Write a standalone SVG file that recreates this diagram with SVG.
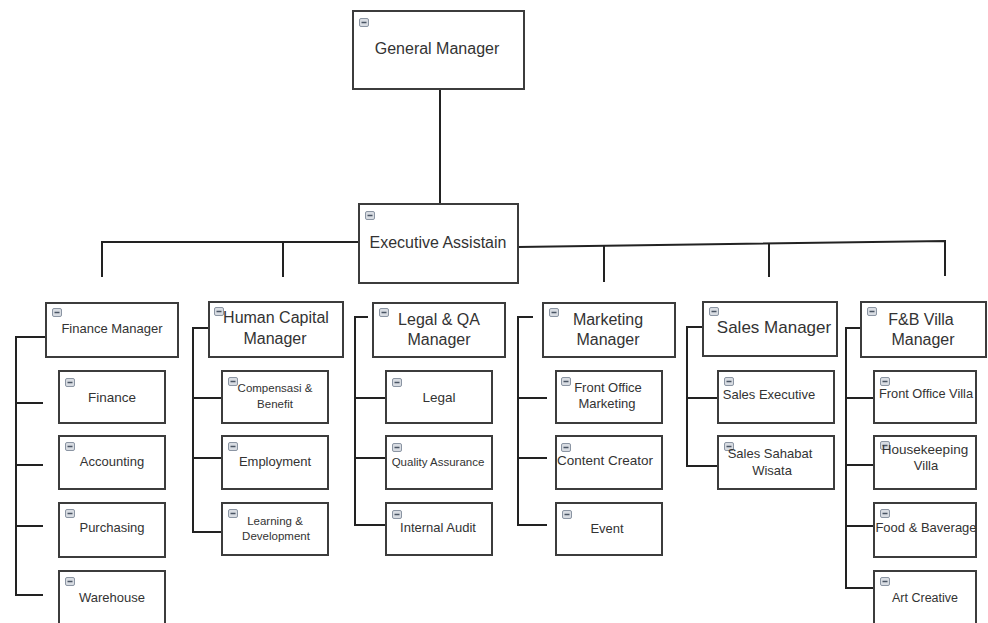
<svg xmlns="http://www.w3.org/2000/svg" width="988" height="623" viewBox="0 0 988 623">
<defs>
<style>
.box{fill:#fff;stroke:#3c3c3c;stroke-width:2}
.ln{fill:none;stroke:#222;stroke-width:2}
text{font-family:"Liberation Sans",Arial,sans-serif;fill:#333;text-anchor:middle}
.m{font-size:16px}
.c{font-size:13px}
.s{font-size:11.5px}
</style>
<g id="ic">
<rect x="0.5" y="0.5" width="9" height="8" rx="1.5" fill="#d8dce2" stroke="#8b95a3" stroke-width="1"/>
<line x1="2.5" y1="4.5" x2="7.5" y2="4.5" stroke="#4a5564" stroke-width="1.5"/>
</g>
</defs>
<rect width="988" height="623" fill="#fff"/>

<g id="connectors">
<line class="ln" x1="440" y1="89" x2="440" y2="204"/>
<polyline class="ln" points="102,277 102,242 359,242"/>
<line class="ln" x1="283" y1="242" x2="283" y2="277"/>
<polyline class="ln" points="518,247 945,241 945,276"/>
<line class="ln" x1="604" y1="246" x2="604" y2="282"/>
<line class="ln" x1="769" y1="244" x2="769" y2="277"/>
<polyline class="ln" points="46,337 16,337 16,595 43,595"/>
<line class="ln" x1="16" y1="403" x2="43" y2="403"/>
<line class="ln" x1="16" y1="465" x2="43" y2="465"/>
<line class="ln" x1="16" y1="526" x2="43" y2="526"/>
<polyline class="ln" points="209,328 193,328 193,532 222,532"/>
<line class="ln" x1="193" y1="398" x2="222" y2="398"/>
<line class="ln" x1="193" y1="458" x2="222" y2="458"/>
<polyline class="ln" points="368,317 355,317 355,525 386,525"/>
<line class="ln" x1="355" y1="398" x2="386" y2="398"/>
<line class="ln" x1="355" y1="458" x2="386" y2="458"/>
<polyline class="ln" points="533,317 518,317 518,525 547,525"/>
<line class="ln" x1="518" y1="398" x2="547" y2="398"/>
<line class="ln" x1="518" y1="458" x2="547" y2="458"/>
<polyline class="ln" points="702,327 687,327 687,466 718,466"/>
<line class="ln" x1="687" y1="398" x2="718" y2="398"/>
<polyline class="ln" points="861,328 846,328 846,588 874,588"/>
<line class="ln" x1="846" y1="398" x2="874" y2="398"/>
<line class="ln" x1="846" y1="465" x2="874" y2="465"/>
<line class="ln" x1="846" y1="526" x2="874" y2="526"/>
</g>

<g id="general-manager"><rect class="box" x="353" y="11" width="171" height="78"/><use href="#ic" x="359" y="18"/><text class="m" x="437" y="54">General Manager</text></g>
<g id="executive-assistain"><rect class="box" x="359" y="204" width="159" height="79"/><use href="#ic" x="365" y="211"/><text class="m" x="438" y="248">Executive Assistain</text></g>

<g id="finance-manager"><rect class="box" x="46" y="303" width="132" height="54"/><use href="#ic" x="52" y="308"/><text class="c" x="112" y="333">Finance Manager</text></g>
<g id="finance"><rect class="box" x="59" y="371" width="106" height="52"/><use href="#ic" x="65" y="378"/><text class="c" x="112" y="402" style="font-size:13.5px">Finance</text></g>
<g id="accounting"><rect class="box" x="59" y="436" width="106" height="53"/><use href="#ic" x="65" y="442"/><text class="c" x="112" y="466">Accounting</text></g>
<g id="purchasing"><rect class="box" x="59" y="503" width="106" height="54"/><use href="#ic" x="65" y="509"/><text class="c" x="112" y="532">Purchasing</text></g>
<g id="warehouse"><rect class="box" x="59" y="571" width="106" height="60"/><use href="#ic" x="65" y="577"/><text class="c" x="112" y="602">Warehouse</text></g>

<g id="human-capital-manager"><rect class="box" x="209" y="302" width="134" height="55"/><use href="#ic" x="214" y="307"/><text class="m" x="276" y="323">Human Capital</text><text class="m" x="275" y="344">Manager</text></g>
<g id="compensasi-benefit"><rect class="box" x="222" y="371" width="106" height="52"/><use href="#ic" x="228" y="377"/><text class="s" x="275" y="392">Compensasi &amp;</text><text class="s" x="275" y="408">Benefit</text></g>
<g id="employment"><rect class="box" x="222" y="436" width="106" height="53"/><use href="#ic" x="228" y="442"/><text class="c" x="275" y="466">Employment</text></g>
<g id="learning-development"><rect class="box" x="222" y="503" width="106" height="52"/><use href="#ic" x="228" y="509"/><text class="s" x="275" y="525">Learning &amp;</text><text class="s" x="276" y="540">Development</text></g>

<g id="legal-qa-manager"><rect class="box" x="373" y="303" width="132" height="54"/><use href="#ic" x="379" y="308"/><text class="m" x="439" y="325">Legal &amp; QA</text><text class="m" x="439" y="345">Manager</text></g>
<g id="legal"><rect class="box" x="386" y="371" width="106" height="52"/><use href="#ic" x="392" y="378"/><text class="c" x="439" y="402" style="font-size:13.5px">Legal</text></g>
<g id="quality-assurance"><rect class="box" x="386" y="436" width="106" height="53"/><use href="#ic" x="392" y="443"/><text class="s" x="438" y="466">Quality Assurance</text></g>
<g id="internal-audit"><rect class="box" x="386" y="503" width="106" height="52"/><use href="#ic" x="392" y="510"/><text class="c" x="438" y="532">Internal Audit</text></g>

<g id="marketing-manager"><rect class="box" x="543" y="303" width="132" height="54"/><use href="#ic" x="549" y="308"/><text class="m" x="608" y="325">Marketing</text><text class="m" x="608" y="345">Manager</text></g>
<g id="front-office-marketing"><rect class="box" x="556" y="371" width="106" height="52"/><use href="#ic" x="561" y="377"/><text class="c" x="608" y="392">Front Office</text><text class="c" x="607" y="408">Marketing</text></g>
<g id="content-creator"><rect class="box" x="556" y="436" width="106" height="53"/><use href="#ic" x="561" y="443"/><text class="c" x="605" y="465" style="font-size:13.5px">Content Creator</text></g>
<g id="event"><rect class="box" x="556" y="503" width="106" height="52"/><use href="#ic" x="562" y="510"/><text class="c" x="607" y="533">Event</text></g>

<g id="sales-manager"><rect class="box" x="703" y="302" width="134" height="54"/><use href="#ic" x="709" y="307"/><text class="m" x="774" y="333" style="font-size:17px">Sales Manager</text></g>
<g id="sales-executive"><rect class="box" x="718" y="371" width="116" height="52"/><use href="#ic" x="724" y="377"/><text class="c" x="769" y="399">Sales Executive</text></g>
<g id="sales-sahabat-wisata"><rect class="box" x="718" y="436" width="116" height="53"/><use href="#ic" x="724" y="442"/><text class="c" x="770" y="458">Sales Sahabat</text><text class="c" x="772" y="475">Wisata</text></g>

<g id="fb-villa-manager"><rect class="box" x="861" y="302" width="125" height="55"/><use href="#ic" x="867" y="307"/><text class="m" x="921" y="325">F&amp;B Villa</text><text class="m" x="923" y="345">Manager</text></g>
<g id="front-office-villa"><rect class="box" x="874" y="371" width="102" height="52"/><use href="#ic" x="880" y="377"/><text class="c" x="926" y="398" style="font-size:12.8px">Front Office Villa</text></g>
<g id="housekeeping-villa"><rect class="box" x="874" y="436" width="102" height="53"/><use href="#ic" x="880" y="441"/><text class="c" x="925" y="454" style="font-size:13.5px">Housekeeping</text><text class="c" x="926" y="470">Villa</text></g>
<g id="food-baverage"><rect class="box" x="874" y="503" width="102" height="54"/><use href="#ic" x="880" y="509"/><text class="c" x="926" y="532">Food &amp; Baverage</text></g>
<g id="art-creative"><rect class="box" x="874" y="571" width="102" height="60"/><use href="#ic" x="880" y="577"/><text class="c" x="925" y="602" style="font-size:12.5px">Art Creative</text></g>
</svg>
